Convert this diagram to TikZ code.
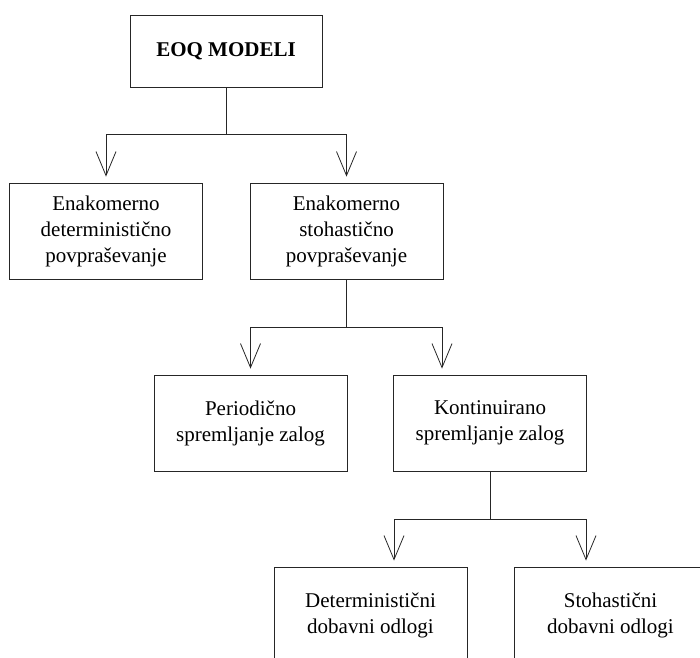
\documentclass[tikz,border=0pt]{standalone}
\usepackage{fontspec}
\setmainfont{Liberation Serif}
\usetikzlibrary{arrows.meta}
\begin{document}
\begin{tikzpicture}[x=1pt,y=-1pt,
 box/.style={draw=black!85, line width=0.8pt, minimum width=193pt, minimum height=96pt, inner sep=0pt, align=center, font=\fontsize{21}{26}\selectfont},
 conn/.style={draw=black!85, line width=0.8pt},
 arr/.style={conn, -{Straight Barb[length=24pt,width=20pt]}, shorten >=6pt}]
\useasboundingbox (0,0) rectangle (700,657);
\clip (0,0) rectangle (700,657);
\node[box, minimum width=192pt, minimum height=72pt, font=\fontsize{21}{26}\selectfont\bfseries] (eoq) at (226,51) {EOQ MODELI};
\node[box] (det) at (106,231) {Enakomerno\\deterministično\\povpraševanje};
\node[box] (sto) at (346.5,231) {Enakomerno\\stohastično\\povpraševanje};
\node[box] (per) at (250.5,423) {Periodično\\spremljanje zalog};
\node[box] (kon) at (490,423) {Kontinuirano\\spremljanje zalog};
\node[box] (dd) at (370.5,615) {Deterministični\\dobavni odlogi};
\node[box] (sd) at (610.5,615) {Stohastični\\dobavni odlogi};
\coordinate (j1) at (226,134);
\coordinate (j2) at (346.5,327);
\coordinate (j3) at (490,519);
\draw[conn] (eoq.south) -- (j1);
\draw[arr] (j1) -| (det.north);
\draw[arr] (j1) -| (sto.north);
\draw[conn] (sto.south) -- (j2);
\draw[arr] (j2) -| (per.north);
\draw[arr] (j2) -| ([xshift=-48pt]kon.north);
\draw[conn] (kon.south) -- (j3);
\draw[arr] (j3) -| ([xshift=23.5pt]dd.north);
\draw[arr] (j3) -| ([xshift=-24.5pt]sd.north);
\end{tikzpicture}
\end{document}
